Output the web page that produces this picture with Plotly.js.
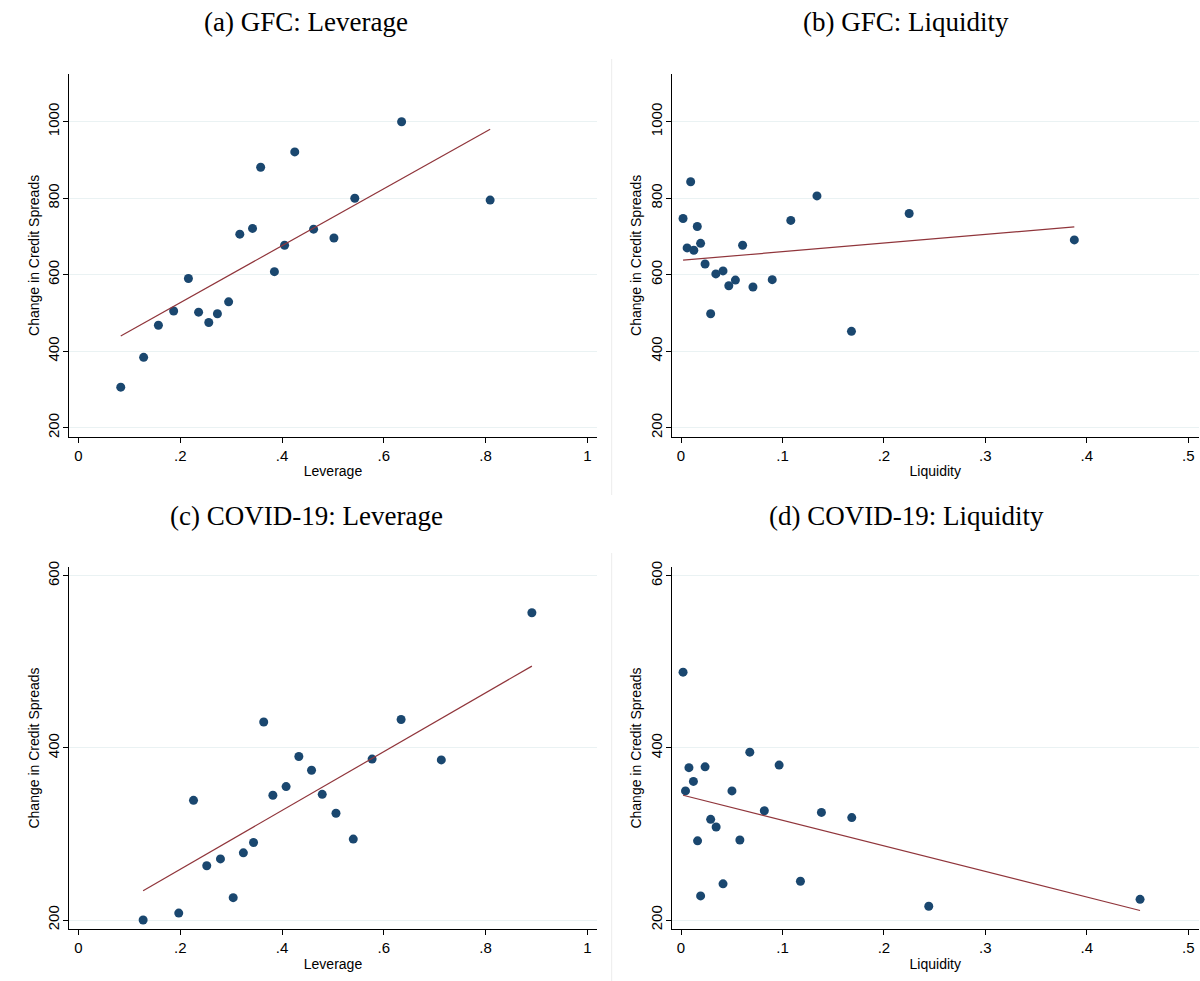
<!DOCTYPE html>
<html>
<head>
<meta charset="utf-8">
<script src="https://cdn.plot.ly/plotly-3.0.1.min.js"></script>
<style>html,body{margin:0;padding:0;background:#fff;}#chart{width:1200px;height:981px;}</style>
</head>
<body>
<div id="chart"></div>
<script>
// ---- Data ----
const panelTitles = ["(a) GFC: Leverage", "(b) GFC: Liquidity", "(c) COVID-19: Leverage", "(d) COVID-19: Liquidity"];
const yTitle = "Change in Credit Spreads";
const xTitles = ["Leverage", "Liquidity", "Leverage", "Liquidity"];

const levTickVals = [0, 0.2, 0.4, 0.6, 0.8, 1];
const levTickText = ["0", ".2", ".4", ".6", ".8", "1"];
const liqTickVals = [0, 0.1, 0.2, 0.3, 0.4, 0.5];
const liqTickText = ["0", ".1", ".2", ".3", ".4", ".5"];
const gfcYTicks = [200, 400, 600, 800, 1000];
const covidYTicks = [200, 400, 600];

// (a) GFC: Leverage
const gfcLevX = [0.083, 0.128, 0.157, 0.187, 0.216, 0.236, 0.256, 0.273, 0.295, 0.317, 0.342, 0.358, 0.385, 0.405, 0.425, 0.462, 0.502, 0.543, 0.635, 0.809];
const gfcLevY = [306, 384, 468, 505, 590, 502, 475, 498, 529, 706, 721, 881, 608, 677, 921, 719, 696, 800, 1000, 795];
const gfcLevFitX = [0.083, 0.809];
const gfcLevFitY = [440, 980];

// (b) GFC: Liquidity
const gfcLiqX = [0.002, 0.0095, 0.006, 0.0126, 0.016, 0.0193, 0.0237, 0.0292, 0.0343, 0.0414, 0.0471, 0.0536, 0.0607, 0.0709, 0.0899, 0.1082, 0.134, 0.168, 0.2249, 0.3877];
const gfcLiqY = [747, 843, 670, 664, 726, 682, 628, 498, 602, 610, 571, 586, 677, 568, 587, 742, 806, 452, 760, 691];
const gfcLiqFitX = [0.002, 0.3877];
const gfcLiqFitY = [638, 725];

// (c) COVID-19: Leverage
const covLevX = [0.127, 0.197, 0.226, 0.252, 0.279, 0.304, 0.324, 0.344, 0.364, 0.382, 0.408, 0.433, 0.458, 0.479, 0.506, 0.540, 0.577, 0.634, 0.713, 0.891];
const covLevY = [200, 208, 339, 263, 271, 226, 278, 290, 430, 345, 355, 390, 374, 346, 324, 294, 387, 433, 386, 557];
const covLevFitX = [0.127, 0.891];
const covLevFitY = [234, 495];

// (d) COVID-19: Liquidity
const covLiqX = [0.002, 0.0044, 0.0078, 0.0122, 0.0163, 0.0193, 0.0237, 0.0292, 0.0346, 0.0414, 0.0502, 0.058, 0.0678, 0.0821, 0.0967, 0.1177, 0.1384, 0.1683, 0.2442, 0.4525];
const covLiqY = [488, 350, 377, 361, 292, 228, 378, 317, 308, 242, 350, 293, 395, 327, 380, 245, 325, 319, 216, 224];
const covLiqFitX = [0.002, 0.4525];
const covLiqFitY = [345, 211];

// ---- Styling ----
const W = 1200, H = 981;
const navy = "#1a476f", maroon = "#90353b", grid = "#eaf2f3";
const sans = "Liberation Sans, Arial, sans-serif";
const serif = "Liberation Serif, Times New Roman, serif";

function px2x(p) { return p / W; }
function px2y(p) { return 1 - p / H; }

const panels = [
  {x: gfcLevX, y: gfcLevY, fx: gfcLevFitX, fy: gfcLevFitY},
  {x: gfcLiqX, y: gfcLiqY, fx: gfcLiqFitX, fy: gfcLiqFitY},
  {x: covLevX, y: covLevY, fx: covLevFitX, fy: covLevFitY},
  {x: covLiqX, y: covLiqY, fx: covLiqFitX, fy: covLiqFitY}
];

const traces = [];
panels.forEach((p, i) => {
  const xa = i === 0 ? "x" : "x" + (i + 1);
  const ya = i === 0 ? "y" : "y" + (i + 1);
  traces.push({x: p.x, y: p.y, xaxis: xa, yaxis: ya, type: "scatter", mode: "markers",
    marker: {color: navy, size: 9, line: {width: 0}}, hoverinfo: "skip", showlegend: false});
  traces.push({x: p.fx, y: p.fy, xaxis: xa, yaxis: ya, type: "scatter", mode: "lines",
    line: {color: maroon, width: 1.2}, hoverinfo: "skip", showlegend: false});
});

const leftDom = [px2x(69), px2x(597)];
const rightDom = [px2x(671.5), px2x(1199)];
const topDom = [px2y(436.7), px2y(74)];
const botDom = [px2y(929.3), px2y(566.7)];

function xAxis(dom, range, tv, tt, title, anchor) {
  return {domain: dom, range: range, tickvals: tv, ticktext: tt, anchor: anchor,
    showgrid: false, zeroline: false, showline: true, linecolor: "#000", linewidth: 1,
    ticks: "outside", ticklen: 5, tickcolor: "#000", tickwidth: 1,
    tickfont: {family: sans, size: 15, color: "#000"},
    title: {text: title, font: {family: sans, size: 14, color: "#000"}, standoff: 3},
    automargin: false, fixedrange: true};
}
function yAxis(dom, range, tv, anchor) {
  return {domain: dom, range: range, tickvals: tv, anchor: anchor,
    showgrid: true, gridcolor: grid, gridwidth: 1, zeroline: false,
    showline: true, linecolor: "#000", linewidth: 1,
    ticks: "outside", ticklen: 5, tickcolor: "#000", tickwidth: 1, tickangle: -90,
    ticklabelstandoff: -2,
    tickfont: {family: sans, size: 15, color: "#000"},
    title: {text: yTitle, font: {family: sans, size: 14, color: "#000"}, standoff: 2},
    automargin: false, fixedrange: true};
}

const levRange = [-0.0187, 1.019];
const liqRange = [-0.0094, 0.5106];
const gfcRange = [176.5, 1124.7];
const covRange = [189.2, 610.5];

const titlePos = [[306, 22], [906, 22], [306, 516], [906, 516]];
const annotations = panelTitles.map((t, i) => ({
  text: t, xref: "paper", yref: "paper", x: px2x(titlePos[i][0]), y: px2y(titlePos[i][1]),
  xanchor: "center", yanchor: "middle", showarrow: false,
  font: {family: serif, size: 27, color: "#000"}
}));

const layout = {
  width: W, height: H, margin: {l: 0, r: 0, t: 0, b: 0},
  paper_bgcolor: "#fff", plot_bgcolor: "#fff", showlegend: false,
  xaxis: xAxis(leftDom, levRange, levTickVals, levTickText, xTitles[0], "y"),
  yaxis: yAxis(topDom, gfcRange, gfcYTicks, "x"),
  xaxis2: xAxis(rightDom, liqRange, liqTickVals, liqTickText, xTitles[1], "y2"),
  yaxis2: yAxis(topDom, gfcRange, gfcYTicks, "x2"),
  xaxis3: xAxis(leftDom, levRange, levTickVals, levTickText, xTitles[2], "y3"),
  yaxis3: yAxis(botDom, covRange, covidYTicks, "x3"),
  xaxis4: xAxis(rightDom, liqRange, liqTickVals, liqTickText, xTitles[3], "y4"),
  yaxis4: yAxis(botDom, covRange, covidYTicks, "x4"),
  annotations: annotations,
  shapes: [
    {type: "line", xref: "paper", yref: "paper", x0: px2x(611.7), x1: px2x(611.7), y0: px2y(59), y1: px2y(495), line: {color: "#ececec", width: 1}},
    {type: "line", xref: "paper", yref: "paper", x0: px2x(611.7), x1: px2x(611.7), y0: px2y(553), y1: px2y(981), line: {color: "#ececec", width: 1}}
  ]
};

Plotly.newPlot("chart", traces, layout, {staticPlot: true, displayModeBar: false});
</script>
</body>
</html>
